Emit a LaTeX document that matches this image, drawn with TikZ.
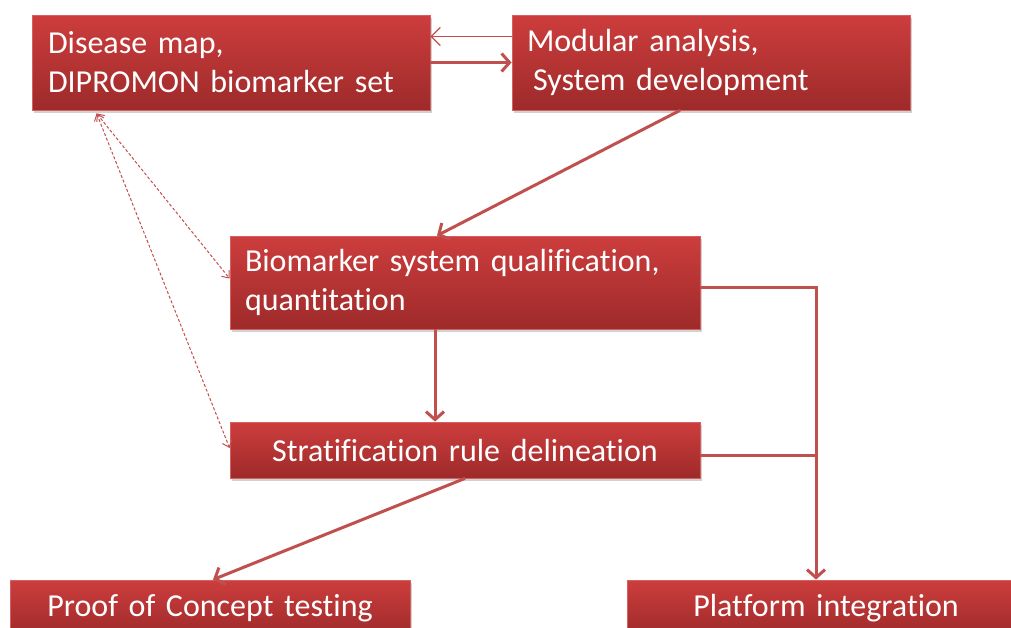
\documentclass[tikz,border=0pt]{standalone}
\usepackage{fontspec}
\setmainfont{Carlito}[Ligatures=NoCommon, WordSpace=0.6]
\usetikzlibrary{arrows.meta,shadows,calc}
\definecolor{boxtop}{HTML}{CD3D3D}
\definecolor{boxbot}{HTML}{9E2A2A}
\definecolor{boxedge}{HTML}{D46060}
\definecolor{linered}{HTML}{C0504D}
\tikzset{
  box/.style={rectangle, draw=boxedge, line width=0.8pt, top color=boxtop, bottom color=boxbot,
    text=white, font=\fontsize{32}{39}\selectfont, inner ysep=0pt,
    drop shadow={shadow xshift=2pt, shadow yshift=-3pt, opacity=0.3, fill=black!60}},
  flow/.style={draw=linered, line width=3pt, -{Straight Barb[length=8pt,width=18pt,line width=3pt]}},
  thinflow/.style={draw=linered, line width=1.3pt, -{Straight Barb[length=9pt,width=18pt,line width=1.3pt]}},
  plainline/.style={draw=linered, line width=3pt},
  dashlink/.style={draw=linered, line width=1pt, dash pattern=on 3pt off 2pt,
    {Straight Barb[length=6pt,width=10pt,line width=1pt]}-{Straight Barb[length=6pt,width=10pt,line width=1pt]}}
}
\begin{document}
\begin{tikzpicture}[x=1pt,y=-1pt]
\useasboundingbox (0,0) rectangle (1011,627);
\node[box, inner xsep=16pt, text width=366pt, minimum height=95pt, align=left] (dis) at (231,62.5)
  {Disease map,\\DIPROMON biomarker set};
\node[box, inner xsep=15pt, text width=368pt, minimum height=95pt, align=left] (mod) at (711,62.5)
  {Modular analysis,\\\hspace*{6pt}System development};
\node[box, inner xsep=15pt, text width=440pt, minimum height=93pt, align=left] (bio) at (465,282.5)
  {Biomarker system qualification,\\quantitation};
\node[box, inner xsep=15pt, text width=440pt, minimum height=56pt, align=center] (str) at (465,450)
  {Stratification rule delineation};
\node[box, inner xsep=15pt, text width=370pt, minimum height=56pt, align=center] (poc) at (210,608)
  {Proof of Concept testing};
\node[box, inner xsep=15pt, text width=368pt, minimum height=56pt, align=center] (pla) at (826,608)
  {Platform integration};
% top arrows
\draw[thinflow] ([yshift=26pt]mod.west) -- ([yshift=26pt]dis.east);
\draw[flow] (dis.east) -- (mod.west);
% modular -> biomarker
\draw[flow] ([xshift=-31pt]mod.south) -- ([xshift=-28pt]bio.north);
% biomarker -> stratification
\draw[flow] ([xshift=-30pt]bio.south) -- ([xshift=-30pt]str.north);
% right bus to platform
\coordinate (vx) at ([xshift=-10pt]pla.north);
\draw[flow] ([yshift=-5pt]bio.east) -| (vx);
\draw[plainline] ([yshift=-5pt]str.east) -- ([yshift=-5pt]str.east -| vx);
% stratification -> proof
\draw[flow] (str.south) -- ([xshift=3pt]poc.north);
% dashed feedback
\coordinate (ds) at ([xshift=65pt,yshift=-3pt]dis.south west);
\draw[dashlink] (ds) -- ([yshift=4pt]bio.west);
\draw[dashlink] (ds) -- ([yshift=2pt]str.west);
\end{tikzpicture}
\end{document}
